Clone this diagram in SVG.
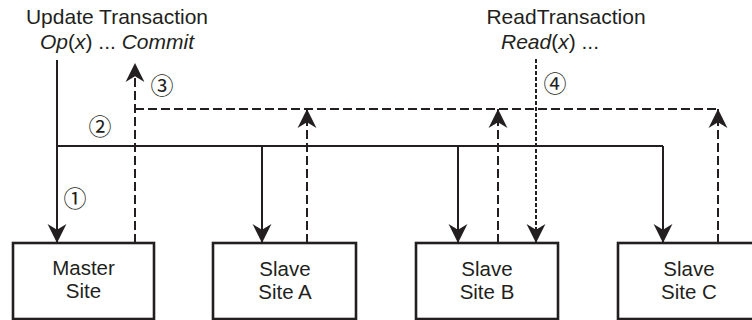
<svg xmlns="http://www.w3.org/2000/svg" width="752" height="320" viewBox="0 0 752 320">
<style>
text{font-family:"Liberation Sans",Arial,sans-serif;fill:#231f20}
.t{font-size:21px;text-anchor:middle}
.b{font-size:20.5px;text-anchor:middle}
.n{font-family:"Noto Sans CJK JP","Noto Sans CJK SC",sans-serif;font-size:23px;text-anchor:middle}
.box{fill:#fff;stroke:#231f20;stroke-width:2.6}
.s{fill:none;stroke:#231f20;stroke-width:2}
.d{fill:none;stroke:#231f20;stroke-width:2;stroke-dasharray:9 4}
.r{fill:none;stroke:#231f20;stroke-width:2;stroke-dasharray:4 2}
</style>
<defs>
<marker id="ah" markerUnits="userSpaceOnUse" markerWidth="20" markerHeight="20" viewBox="-17 -9 18 18" refX="0" refY="0" orient="auto">
<path d="M0,0 L-17,-8.5 L-12,0 L-17,8.5 Z" fill="#231f20"/>
</marker>
</defs>
<g id="labels">
<text class="t" x="117" y="24">Update Transaction</text>
<text class="t" x="117" y="49"><tspan font-style="italic">Op</tspan>(<tspan font-style="italic">x</tspan>) ... <tspan font-style="italic">Commit</tspan></text>
<text class="t" x="566" y="24">ReadTransaction</text>
<text class="t" x="550" y="49"><tspan font-style="italic">Read</tspan>(<tspan font-style="italic">x</tspan>) ...</text>
<text class="n" x="162" y="94">③</text>
<text class="n" x="100" y="135">②</text>
<text class="n" x="75" y="207">①</text>
<text class="n" x="555" y="92">④</text>
</g>
<g id="connectors">
<path class="s" d="M57,60 V243" marker-end="url(#ah)"/>
<path class="s" d="M57,146 H663"/>
<path class="s" d="M262,146 V243" marker-end="url(#ah)"/>
<path class="s" d="M458,146 V243" marker-end="url(#ah)"/>
<path class="s" d="M663,146 V243" marker-end="url(#ah)"/>
<path class="d" d="M135,243 V63" marker-end="url(#ah)"/>
<path class="d" d="M135,109 H718"/>
<path class="d" d="M307,243 V109" marker-end="url(#ah)"/>
<path class="d" d="M498,243 V109" marker-end="url(#ah)"/>
<path class="d" d="M718,243 V109" marker-end="url(#ah)"/>
<path class="r" d="M536,59 V243" marker-end="url(#ah)"/>
</g>
<g id="master">
<rect class="box" x="13" y="243" width="141" height="76"/>
<text class="b" x="83.5" y="275">Master</text>
<text class="b" x="83.5" y="298">Site</text>
</g>
<g id="slaveA">
<rect class="box" x="213" y="243" width="143" height="76"/>
<text class="b" x="285" y="276">Slave</text>
<text class="b" x="285" y="299">Site A</text>
</g>
<g id="slaveB">
<rect class="box" x="416" y="243" width="142" height="76"/>
<text class="b" x="487" y="276">Slave</text>
<text class="b" x="487" y="299">Site B</text>
</g>
<g id="slaveC">
<rect class="box" x="618" y="243" width="142" height="76"/>
<text class="b" x="689" y="276">Slave</text>
<text class="b" x="689" y="299">Site C</text>
</g>
</svg>
